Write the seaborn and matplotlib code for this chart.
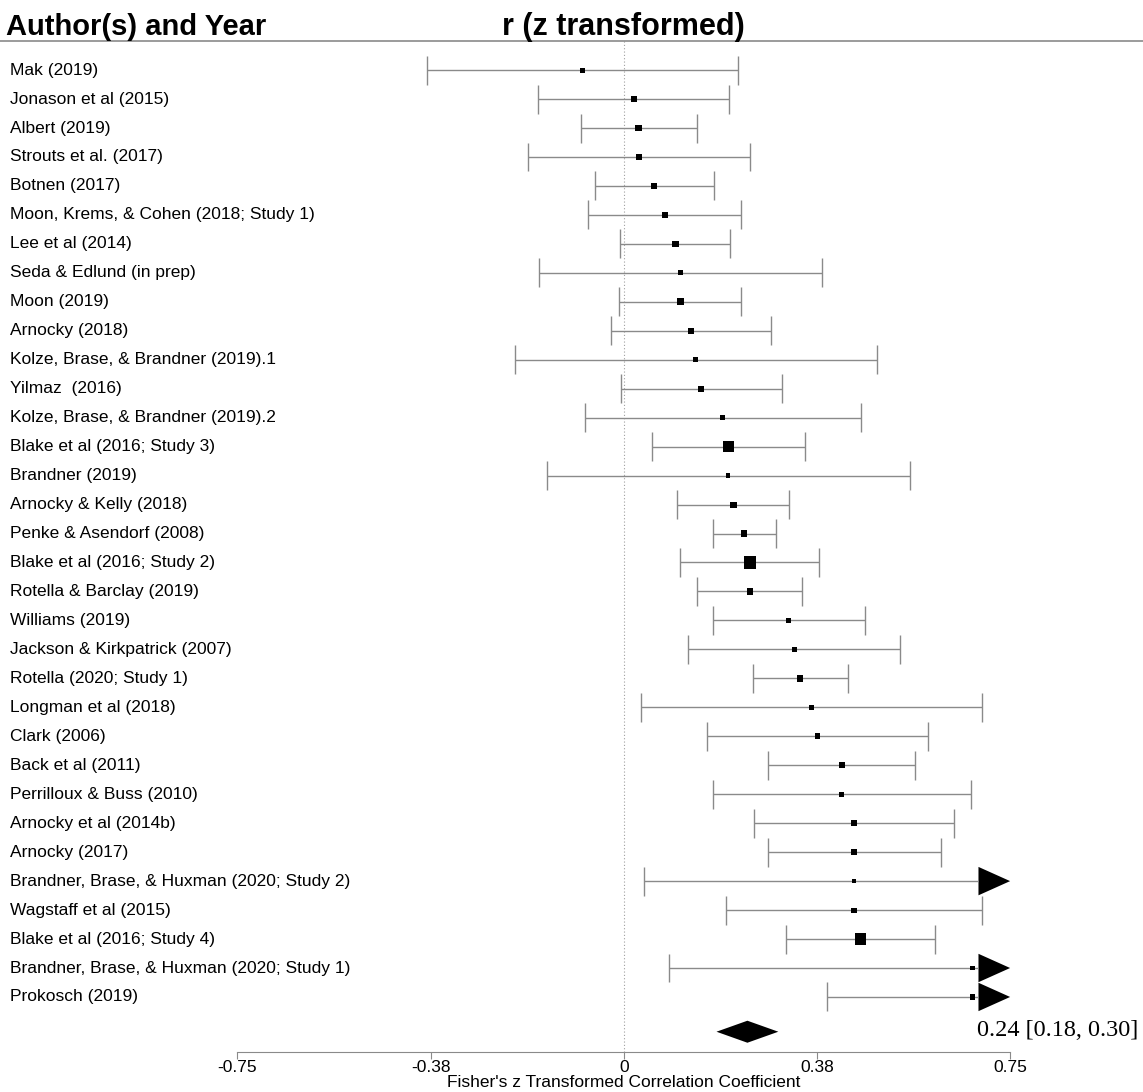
import numpy as np
import pandas as pd
import seaborn as sns
import matplotlib.pyplot as plt
from matplotlib.patches import Polygon

# study labels, Fisher z estimates, 95% CI bounds and weights (%)
studies = ["Mak (2019)", "Jonason et al (2015)", "Albert (2019)", "Strouts et al. (2017)",
           "Botnen (2017)", "Moon, Krems, & Cohen (2018; Study 1)", "Lee et al (2014)",
           "Seda & Edlund (in prep)", "Moon (2019)", "Arnocky (2018)",
           "Kolze, Brase, & Brandner (2019).1", "Yilmaz  (2016)",
           "Kolze, Brase, & Brandner (2019).2", "Blake et al (2016; Study 3)", "Brandner (2019)",
           "Arnocky & Kelly (2018)", "Penke & Asendorf (2008)", "Blake et al (2016; Study 2)",
           "Rotella & Barclay (2019)", "Williams (2019)", "Jackson & Kirkpatrick (2007)",
           "Rotella (2020; Study 1)", "Longman et al (2018)", "Clark (2006)", "Back et al (2011)",
           "Perrilloux & Buss (2010)", "Arnocky et al (2014b)", "Arnocky (2017)",
           "Brandner, Brase, & Huxman (2020; Study 2)", "Wagstaff et al (2015)",
           "Blake et al (2016; Study 4)", "Brandner, Brase, & Huxman (2020; Study 1)",
           "Prokosch (2019)"]
estimate = [-0.081, 0.019, 0.029, 0.029, 0.059, 0.080, 0.100, 0.110, 0.110, 0.130, 0.140,
            0.150, 0.192, 0.203, 0.202, 0.213, 0.234, 0.245, 0.245, 0.320, 0.331, 0.342,
            0.365, 0.376, 0.423, 0.423, 0.447, 0.447, 0.447, 0.447, 0.459, 0.677, 0.677]
ci_low = [-0.383, -0.166, -0.084, -0.185, -0.056, -0.069, -0.007, -0.164, -0.009, -0.025,
          -0.211, -0.006, -0.076, 0.054, -0.149, 0.104, 0.173, 0.110, 0.142, 0.173, 0.125,
          0.250, 0.034, 0.162, 0.280, 0.173, 0.253, 0.280, 0.039, 0.198, 0.315, 0.087, 0.395]
ci_high = [0.222, 0.205, 0.143, 0.245, 0.175, 0.228, 0.206, 0.385, 0.228, 0.285, 0.492,
           0.307, 0.461, 0.351, 0.555, 0.321, 0.295, 0.379, 0.346, 0.468, 0.537, 0.436,
           0.696, 0.590, 0.566, 0.674, 0.641, 0.616, 0.855, 0.696, 0.604, 1.267, 0.959]
weights = [1.90, 2.74, 3.22, 2.30, 2.74, 2.74, 3.22, 1.90, 3.22, 2.74, 1.90, 2.74, 1.90,
           9.22, 1.54, 2.74, 2.74, 10.97, 2.74, 2.30, 1.90, 3.22, 1.54, 2.30, 2.74, 1.90,
           2.30, 2.74, 1.54, 1.90, 9.22, 1.22, 1.90]
pooled, pooled_low, pooled_high = 0.24, 0.18, 0.30

tick_vals = [-0.75, -0.375, 0, 0.375, 0.75]
tick_labels = ["-0.75", "-0.38", "0", "0.38", "0.75"]

sns.set_style("white")
plt.rcParams['font.family'] = ['Liberation Sans', 'DejaVu Sans']
plt.rcParams['text.color'] = 'black'
plt.rcParams['axes.labelcolor'] = 'black'
plt.rcParams['xtick.labelcolor'] = 'black'

n = len(studies)
df = pd.DataFrame({"study": studies, "est": estimate, "lo": ci_low, "hi": ci_high,
                   "w": weights, "row": np.arange(n)})
lim = 0.75
grey = "#8a8a8a"

fig = plt.figure(figsize=(11.43, 10.92), dpi=100)
ax = fig.add_axes([0, 40 / 1092, 1, 1 - 40 / 1092])
ax.set_xlim(-1.211, 1.008)
ax.set_ylim(33.9, -2.42)

# reference line at zero and header rule
ax.vlines(0, -1.0, 33.9, colors="#a0a0a0", linestyles=(0, (1, 2)), linewidth=0.8)
ax.axhline(-1.02, color=grey, linewidth=1.2)

# confidence intervals
cap = 0.5
arrow_len = 0.0614
for _, r in df.iterrows():
    hi = min(r.hi, lim - arrow_len) if r.hi > lim else r.hi
    ax.hlines(r.row, r.lo, hi, colors=grey, linewidth=1)
    ax.vlines(r.lo, r.row - cap, r.row + cap, colors=grey, linewidth=1)
    if r.hi > lim:
        ax.add_patch(Polygon([[lim - arrow_len, r.row - 0.49], [lim, r.row],
                              [lim - arrow_len, r.row + 0.49]], closed=True,
                             facecolor="black", edgecolor="none"))
    else:
        ax.vlines(r.hi, r.row - cap, r.row + cap, colors=grey, linewidth=1)

# point estimates, box area proportional to weight
smax = 78
smin = smax * df.w.min() / df.w.max()
sns.scatterplot(data=df, x="est", y="row", size="w", sizes=(smin, smax), marker="s",
                color="black", edgecolor="black", linewidth=0, legend=False, ax=ax, zorder=5)

# pooled estimate diamond
prow = n + 0.2
ax.add_patch(Polygon([[pooled_low, prow], [pooled, prow - 0.38], [pooled_high, prow],
                      [pooled, prow + 0.38]], closed=True, facecolor="black", edgecolor="none"))
ax.text(0.9987, prow - 0.05, f"{pooled:.2f} [{pooled_low:.2f}, {pooled_high:.2f}]",
        ha="right", va="center", fontsize=17.5, family=["Liberation Serif"])

# study labels
for _, r in df.iterrows():
    ax.text(-1.1917, r.row, r.study, ha="left", va="center", fontsize=12.5)

# headers
ax.text(-1.2, -1.2, "Author(s) and Year", ha="left", va="baseline", fontsize=21,
        fontweight="bold")
ax.text(0, -1.2, "r (z transformed)", ha="center", va="baseline", fontsize=22,
        fontweight="bold")

# x axis
for s in ["left", "right", "top"]:
    ax.spines[s].set_visible(False)
ax.spines["bottom"].set_bounds(-0.75, 0.75)
ax.spines["bottom"].set_color(grey)
ax.set_xticks(tick_vals)
ax.set_xticklabels(tick_labels)
ax.set_yticks([])
ax.tick_params(axis="x", length=5, color=grey, labelsize=12.5, pad=1, direction="out",
               bottom=True)
ax.set_xlabel("Fisher's z Transformed Correlation Coefficient", fontsize=12.5)
ax.set_ylabel("")
ax.xaxis.set_label_coords(0.5456, -0.0215)

fig.savefig("out.png", dpi=100)
